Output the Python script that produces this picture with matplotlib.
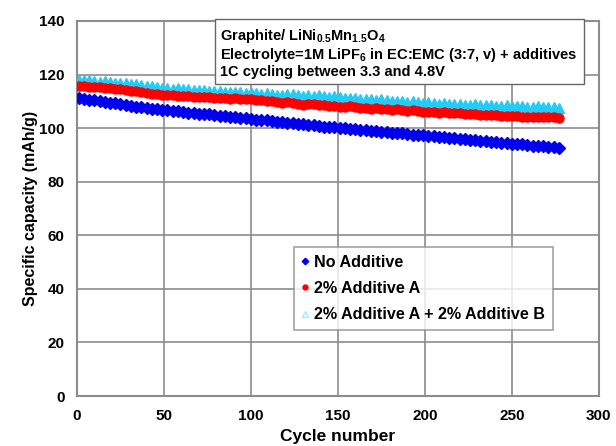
import matplotlib
matplotlib.use("Agg")
import matplotlib.pyplot as plt

plt.rcParams["font.family"] = ["Liberation Sans", "DejaVu Sans"]
plt.rcParams["font.weight"] = "bold"
plt.rcParams["mathtext.fontset"] = "custom"
plt.rcParams["mathtext.rm"] = "Liberation Sans:bold"
plt.rcParams["mathtext.default"] = "rm"

# cycle numbers sampled every 3 cycles
cycles = list(range(1, 278, 3))

no_additive = [
    111.4, 111.0, 110.6, 110.4, 110.0, 109.8, 109.4, 109.2, 108.9, 108.6,
    108.4, 108.0, 107.8, 107.5, 107.3, 107.0, 106.8, 106.6, 106.4, 106.3,
    106.0, 105.8, 105.7, 105.4, 105.2, 105.1, 104.8, 104.6, 104.5, 104.2,
    104.1, 103.8, 103.6, 103.5, 103.2, 103.0, 102.9, 102.6, 102.4, 102.3,
    102.0, 101.8, 101.7, 101.4, 101.2, 101.0, 100.9, 100.6, 100.5, 100.3,
    100.1, 99.9, 99.8, 99.5, 99.4, 99.2, 99.0, 98.9, 98.6, 98.5,
    98.3, 98.1, 98.0, 97.8, 97.6, 97.5, 97.3, 97.1, 96.9, 96.7,
    96.6, 96.3, 96.2, 96.0, 95.8, 95.6, 95.5, 95.2, 95.1, 94.9,
    94.8, 94.5, 94.4, 94.2, 94.0, 93.9, 93.7, 93.5, 93.4, 93.2,
    93.0, 92.9, 92.7,
]

additive_a = [
    115.8, 115.6, 115.5, 115.3, 115.2, 115.0, 114.9, 114.6, 114.5, 114.2,
    114.0, 113.7, 113.5, 113.2, 112.9, 112.6, 112.4, 112.5, 112.3, 112.0,
    111.9, 112.0, 111.8, 111.6, 111.7, 111.5, 111.3, 111.4, 111.2, 111.0,
    111.1, 110.9, 110.8, 110.9, 110.6, 110.5, 110.2, 110.0, 109.7, 109.5,
    109.6, 109.3, 109.0, 108.8, 109.1, 109.0, 108.7, 108.5, 108.4, 108.2,
    108.0, 107.9, 108.1, 107.8, 107.6, 107.5, 107.3, 107.4, 107.2, 107.0,
    106.9, 107.0, 106.7, 106.5, 106.6, 106.3, 106.1, 106.2, 106.0, 105.8,
    105.9, 105.7, 105.5, 105.6, 105.4, 105.2, 105.3, 105.0, 104.9, 105.0,
    104.8, 104.7, 104.6, 104.5, 104.4, 104.3, 104.3, 104.2, 104.1, 104.2,
    104.0, 104.0, 103.9,
]

additive_ab = [
    118.0, 117.8, 117.9, 117.6, 117.4, 117.5, 117.2, 117.0, 116.8, 116.9,
    116.5, 116.3, 116.0, 115.8, 115.6, 115.4, 115.1, 114.9, 114.7, 114.8,
    114.5, 114.6, 114.3, 114.1, 114.2, 113.9, 113.7, 113.9, 113.6, 113.4,
    113.6, 113.3, 113.2, 113.4, 113.0, 112.8, 113.1, 112.9, 112.5, 112.3,
    112.6, 112.8, 112.4, 112.1, 112.3, 112.0, 112.2, 111.9, 111.7, 111.9,
    111.5, 111.3, 111.4, 111.1, 110.9, 111.0, 110.7, 110.5, 110.7, 110.4,
    110.2, 110.3, 110.0, 109.9, 110.1, 109.7, 109.5, 109.6, 109.3, 109.1,
    109.3, 109.0, 108.9, 109.1, 108.8, 108.7, 108.9, 108.6, 108.5, 108.7,
    108.4, 108.3, 108.5, 108.2, 108.1, 108.3, 108.0, 107.9, 108.1, 107.8,
    107.7, 107.8, 107.6,
]

labels = ["No Additive", "2% Additive A", "2% Additive A + 2% Additive B"]

fig = plt.figure(figsize=(6.16, 4.46), dpi=100)
ax = fig.add_axes([0.125, 0.112, 0.847, 0.841])

ax.plot(cycles, additive_ab, linestyle="none", marker="^", markersize=7.5,
        markerfacecolor="#22CCF5", markeredgecolor="#22CCF5", label=labels[2], zorder=3)
ax.plot(cycles, additive_a, linestyle="none", marker="o", markersize=6.5,
        color="#FF0000", label=labels[1], zorder=4)
ax.plot(cycles, no_additive, linestyle="none", marker="D", markersize=6,
        color="#0000EE", label=labels[0], zorder=5)

ax.set_xlim(0, 300)
ax.set_ylim(0, 140)
ax.set_xticks(range(0, 301, 50))
ax.set_yticks(range(0, 141, 20))
ax.grid(True, color="#8c8c8c", linewidth=1.2)
ax.set_axisbelow(True)
for s in ax.spines.values():
    s.set_color("#8c8c8c")
    s.set_linewidth(1.5)
ax.tick_params(length=0, labelsize=11, pad=9)
for t in ax.get_xticklabels() + ax.get_yticklabels():
    t.set_fontweight("bold")

ax.set_xlabel("Cycle number", fontsize=12.5, fontweight="bold", labelpad=5)
ax.set_ylabel("Specific capacity (mAh/g)", fontsize=11.5, fontweight="bold", labelpad=1)

info = ("Graphite/ LiNi$_{0.5}$Mn$_{1.5}$O$_{4}$\n"
        "Electrolyte=1M LiPF$_{6}$ in EC:EMC (3:7, v) + additives\n"
        "1C cycling between 3.3 and 4.8V")
ax.text(0.275, 0.985, info, transform=ax.transAxes, fontsize=10.5, fontweight="bold",
        va="top", ha="left", linespacing=1.08, zorder=6,
        bbox=dict(boxstyle="square,pad=0.4", facecolor="white", edgecolor="#666666", linewidth=1))

handles, lbls = ax.get_legend_handles_labels()
order = [2, 1, 0]
leg = ax.legend([handles[i] for i in order], [lbls[i] for i in order],
                loc="upper left", bbox_to_anchor=(0.4, 0.42),
                prop=dict(weight="bold", size=11.6), frameon=True, fancybox=False,
                edgecolor="#8c8c8c", handlelength=0.45, handletextpad=0.3,
                labelspacing=0.7, borderpad=0.5, markerscale=0.55)
leg.get_frame().set_linewidth(1.2)
leg.legend_handles[2].set_markerfacecolor("none")
leg.legend_handles[2].set_markeredgecolor("#99EEFF")

fig.savefig("out.png", dpi=100)
